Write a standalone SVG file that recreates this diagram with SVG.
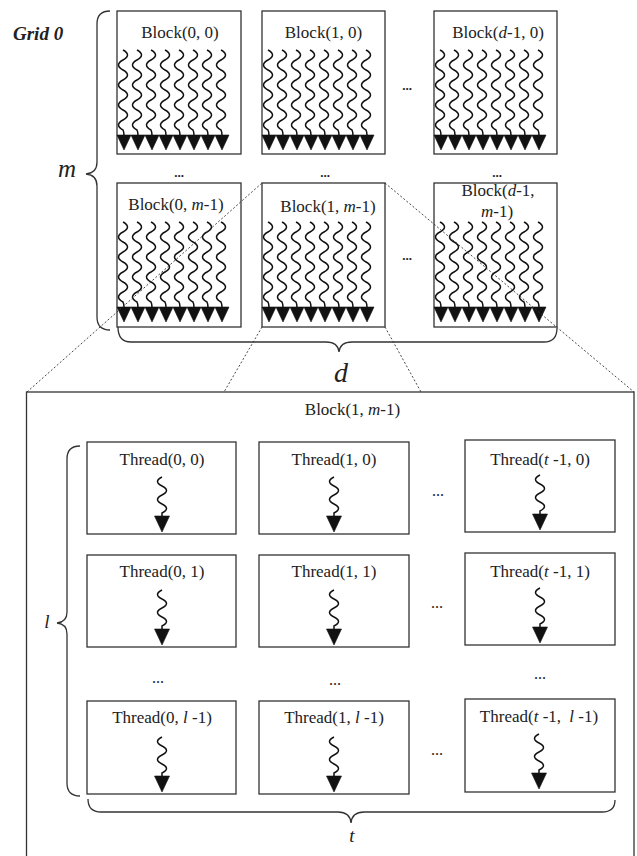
<svg xmlns="http://www.w3.org/2000/svg" xmlns:xlink="http://www.w3.org/1999/xlink" width="637" height="856" viewBox="0 0 637 856">
<style>
.box{fill:#fff;stroke:#333;stroke-width:1.3}
.outer{fill:none;stroke:#333;stroke-width:1.3}
.lbl{font-family:"Liberation Serif","Times New Roman",serif;font-size:17px;fill:#222;text-anchor:middle}
.it{font-style:italic}
.dots{font-family:"Liberation Serif",serif;font-size:13px;font-weight:bold;fill:#222;text-anchor:middle}
.dots2{font-family:"Liberation Serif",serif;font-size:16px;fill:#222;text-anchor:middle}
.wave{fill:none;stroke:#111;stroke-width:1.5}
.head{fill:#111;stroke:#111;stroke-width:0.6;stroke-linejoin:miter}
.brace{fill:none;stroke:#333;stroke-width:1.3}
.dash{fill:none;stroke:#333;stroke-width:0.9;stroke-dasharray:2 2}
.big{font-family:"Liberation Serif","Times New Roman",serif;font-style:italic;fill:#222;text-anchor:middle}
</style>
<defs>
<g id="bt">
<path class="wave" d="M-1,0 c6,3.3 6,6.7 0,10 s-6,6.7 0,10 s6,6.7 0,10 s-6,6.7 0,10 s6,6.7 0,10 s-6,6.7 0,10 s6,6.7 0,10 s-6,6.7 0,10 q1,2 1,5"/>
<polygon class="head" points="-7,85 7,85 0,100"/>
</g>
<g id="b8">
<use xlink:href="#bt" x="7"/><use xlink:href="#bt" x="21"/><use xlink:href="#bt" x="35"/><use xlink:href="#bt" x="49"/>
<use xlink:href="#bt" x="63"/><use xlink:href="#bt" x="77"/><use xlink:href="#bt" x="91"/><use xlink:href="#bt" x="105"/>
</g>
<g id="tt">
<path class="wave" d="M0,0 c-6,3 -6,6 0,9 s6,6 0,9 s-6,6 0,9 s6,6 0,9 l0,3"/>
<polygon class="head" points="-7.5,39 7.5,39 0,55"/>
</g>
</defs>

<text x="13" y="40" style="font-family:'Liberation Serif',serif;font-size:19px;font-weight:bold;font-style:italic;fill:#222">Grid 0</text>

<g id="block-0-0">
<rect class="box" x="117" y="11" width="124" height="143"/>
<text class="lbl" x="180" y="38">Block(0, 0)</text>
<use xlink:href="#b8" x="117" y="50"/>
</g>
<g id="block-1-0">
<rect class="box" x="262" y="11" width="123" height="143"/>
<text class="lbl" x="323.5" y="38">Block(1, 0)</text>
<use xlink:href="#b8" x="262" y="50"/>
</g>
<g id="block-d-0">
<rect class="box" x="434" y="11" width="123" height="143"/>
<text class="lbl" x="498" y="38">Block(<tspan class="it">d</tspan>-1, 0)</text>
<use xlink:href="#b8" x="434" y="50"/>
</g>
<g id="block-0-m">
<rect class="box" x="117" y="183" width="124" height="144"/>
<text class="lbl" x="176" y="210">Block(0, <tspan class="it">m</tspan>-1)</text>
<use xlink:href="#b8" x="117" y="222"/>
</g>
<g id="block-1-m">
<rect class="box" x="262" y="183" width="123" height="144"/>
<text class="lbl" x="328" y="212">Block(1, <tspan class="it">m</tspan>-1)</text>
<use xlink:href="#b8" x="262" y="222"/>
</g>
<g id="block-d-m">
<rect class="box" x="434" y="183" width="123" height="144"/>
<text class="lbl" x="498" y="196">Block(<tspan class="it">d</tspan>-1,</text>
<text class="lbl" x="497" y="217"><tspan class="it">m</tspan>-1)</text>
<use xlink:href="#b8" x="434" y="222"/>
</g>

<g id="top-dots">
<text class="dots" x="407" y="90">...</text>
<text class="dots" x="407" y="260">...</text>
<text class="dots" x="179" y="177">...</text>
<text class="dots" x="325" y="177">...</text>
<text class="dots" x="497" y="177">...</text>
</g>

<g id="block-1-m-detail">
<rect class="outer" x="26.5" y="392" width="607.5" height="480"/>
<text class="lbl" x="352.5" y="415">Block(1, <tspan class="it">m</tspan>-1)</text>
</g>

<g id="braces">
<path class="brace" d="M110,11 Q97,11 97,24 L97,162 Q97,173 86,174 Q97,175 97,186 L97,317 Q97,330 110,330"/>
<path class="brace" d="M118,327 Q118,342 131,342 L326,342 Q338,342 339,352 Q340,342 352,342 L544,342 Q557,342 557,328"/>
<path class="brace" d="M80,446 Q67,446 67,459 L67,612 Q67,622 57,623 Q67,624 67,634 L67,783 Q67,796 80,796"/>
<path class="brace" d="M88,799 Q88,812 101,812 L338,812 Q350,812 351,823 Q352,812 364,812 L602,812 Q615,812 615,800"/>
</g>
<text class="big" x="67" y="177" style="font-size:25px">m</text>
<text class="big" x="341" y="382" style="font-size:28px">d</text>
<text class="big" x="47" y="628" style="font-size:19px">l</text>
<text class="big" x="352" y="842" style="font-size:19px">t</text>

<g id="connectors">
<line class="dash" x1="27" y1="392" x2="262" y2="183"/>
<line class="dash" x1="385" y1="183" x2="634" y2="392"/>
<line class="dash" x1="262" y1="327" x2="224" y2="392"/>
<line class="dash" x1="385" y1="327" x2="421" y2="392"/>
</g>

<g id="thread-0-0">
<rect class="box" x="87" y="442" width="149" height="92"/>
<text class="lbl" x="162" y="465">Thread(0, 0)</text>
<use xlink:href="#tt" x="162" y="477"/>
</g>
<g id="thread-1-0">
<rect class="box" x="259" y="442" width="150" height="92"/>
<text class="lbl" x="334" y="465">Thread(1, 0)</text>
<use xlink:href="#tt" x="334" y="477"/>
</g>
<g id="thread-t-0">
<rect class="box" x="465" y="440" width="150" height="92"/>
<text class="lbl" x="540" y="465">Thread(<tspan class="it">t</tspan> -1, 0)</text>
<use xlink:href="#tt" x="540" y="475"/>
</g>
<g id="thread-0-1">
<rect class="box" x="87" y="555" width="149" height="92"/>
<text class="lbl" x="162" y="577">Thread(0, 1)</text>
<use xlink:href="#tt" x="162" y="590"/>
</g>
<g id="thread-1-1">
<rect class="box" x="259" y="555" width="150" height="92"/>
<text class="lbl" x="334" y="577">Thread(1, 1)</text>
<use xlink:href="#tt" x="334" y="590"/>
</g>
<g id="thread-t-1">
<rect class="box" x="465" y="553" width="150" height="92"/>
<text class="lbl" x="540" y="577">Thread(<tspan class="it">t</tspan> -1, 1)</text>
<use xlink:href="#tt" x="540" y="588"/>
</g>
<g id="thread-0-l">
<rect class="box" x="87" y="701" width="149" height="93"/>
<text class="lbl" x="162" y="723">Thread(0, <tspan class="it">l</tspan> -1)</text>
<use xlink:href="#tt" x="162" y="737"/>
</g>
<g id="thread-1-l">
<rect class="box" x="259" y="701" width="150" height="93"/>
<text class="lbl" x="334" y="723">Thread(1, <tspan class="it">l</tspan> -1)</text>
<use xlink:href="#tt" x="334" y="737"/>
</g>
<g id="thread-t-l">
<rect class="box" x="465" y="699" width="150" height="93"/>
<text class="lbl" x="539" y="722">Thread(<tspan class="it">t</tspan> -1, <tspan class="it" dx="4">l</tspan> -1)</text>
<use xlink:href="#tt" x="539" y="734"/>
</g>

<g id="thread-dots">
<text class="dots2" x="438" y="496">...</text>
<text class="dots2" x="437" y="608">...</text>
<text class="dots2" x="437" y="755">...</text>
<text class="dots2" x="158" y="683">...</text>
<text class="dots2" x="335" y="685">...</text>
<text class="dots2" x="540" y="679">...</text>
</g>
</svg>
